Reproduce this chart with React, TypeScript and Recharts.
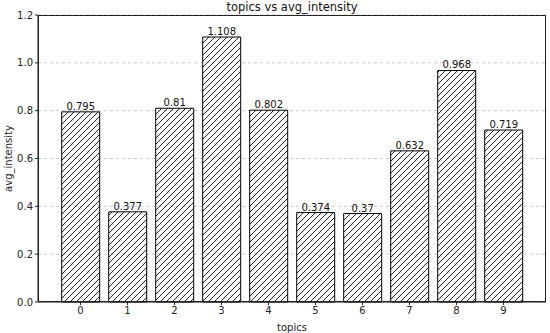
import React from 'react';
import { BarChart, Bar, XAxis, YAxis, CartesianGrid, LabelList } from 'recharts';

// topic ids and their average intensity
const topics = ['0', '1', '2', '3', '4', '5', '6', '7', '8', '9'];
const avgIntensity = [0.795, 0.377, 0.81, 1.108, 0.802, 0.374, 0.37, 0.632, 0.968, 0.719];
const yTicks = [0, 0.2, 0.4, 0.6, 0.8, 1.0, 1.2];

const data = topics.map((t, i) => ({ topic: t, value: avgIntensity[i] }));

const font = 'DejaVu Sans, sans-serif';

export default function App() {
    return (
        <div style={{ position: 'absolute', left: 0, top: 0, width: 550, height: 333, background: '#fff', fontFamily: font }}>
            <div style={{ position: 'absolute', left: 38, width: 508, top: 0, textAlign: 'center', fontSize: 11.5, color: '#111' }}>
                topics vs avg_intensity
            </div>
            <BarChart
                width={550}
                height={333}
                data={data}
                margin={{ top: 15, right: 4, left: 0, bottom: 0 }}
                barCategoryGap="10%"
            >
                <defs>
                    <pattern id="hatch" patternUnits="userSpaceOnUse" width={6} height={6}>
                        <path d="M0,6 L6,0 M-1,1 L1,-1 M5,7 L7,5" stroke="#222" strokeWidth={1} />
                    </pattern>
                </defs>
                <CartesianGrid vertical={false} strokeDasharray="3 3" stroke="#c8c8c8" />
                <XAxis
                    dataKey="topic"
                    height={31}
                    padding={{ left: 19, right: 19 }}
                    tick={{ fontSize: 10, fill: '#222', fontFamily: font }}
                    tickSize={3}
                    stroke="#222"
                    tickLine={{ stroke: '#222' }}
                    label={{ value: 'topics', position: 'insideBottom', offset: 2, fontSize: 10, fill: '#222', fontFamily: font }}
                />
                <YAxis
                    width={38}
                    domain={[0, 1.2]}
                    ticks={yTicks}
                    tickFormatter={(v: number) => v.toFixed(1)}
                    tick={{ fontSize: 10, fill: '#222', fontFamily: font }}
                    tickSize={3}
                    stroke="#222"
                    label={{ value: 'avg_intensity', angle: -90, position: 'insideLeft', offset: 0, dx: 8, fontSize: 10, fill: '#222', fontFamily: font, style: { textAnchor: 'middle' } }}
                />
                <Bar dataKey="value" fill="url(#hatch)" stroke="#000" strokeWidth={1} isAnimationActive={false}>
                    <LabelList dataKey="value" position="top" offset={2} fontSize={10} fill="#111" fontFamily={font} />
                </Bar>
            </BarChart>
            <div style={{ position: 'absolute', left: 38, top: 15, width: 508, height: 287, border: '1px solid #222', boxSizing: 'border-box', pointerEvents: 'none' }} />
        </div>
    );
}
